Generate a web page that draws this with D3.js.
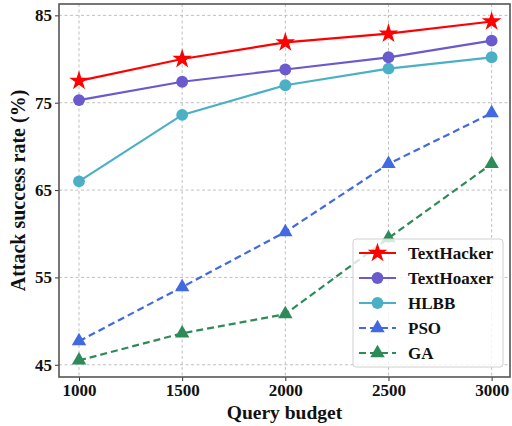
<!DOCTYPE html>
<html>
<head>
<meta charset="utf-8">
<script src="https://cdn.jsdelivr.net/npm/d3@7"></script>
<style>
  body { margin: 0; background: #fff; }
  text { font-family: "Liberation Serif", "DejaVu Serif", serif; font-weight: bold; }
</style>
</head>
<body>
<div id="chart"></div>
<script>
var budgets = [1000, 1500, 2000, 2500, 3000];
var yTicks = [45, 55, 65, 75, 85];
var seriesNames = ["TextHacker", "TextHoaxer", "HLBB", "PSO", "GA"];
var textHacker = [77.5, 80.0, 81.9, 82.9, 84.3];
var textHoaxer = [75.3, 77.4, 78.8, 80.2, 82.1];
var hlbb = [66.0, 73.6, 77.0, 78.9, 80.2];
var pso = [47.7, 53.9, 60.2, 68.0, 73.8];
var ga = [45.5, 48.6, 50.8, 59.5, 68.0];

var series = [
    { name: seriesNames[0], values: textHacker, color: "#ff0000", symbol: d3.symbolStar, size: 120, dash: null },
    { name: seriesNames[1], values: textHoaxer, color: "#6a5acd", symbol: d3.symbolCircle, size: 110, dash: null },
    { name: seriesNames[2], values: hlbb, color: "#4bb0c6", symbol: d3.symbolCircle, size: 110, dash: null },
    { name: seriesNames[3], values: pso, color: "#4169e1", symbol: d3.symbolTriangle, size: 90, dash: "7,4" },
    { name: seriesNames[4], values: ga, color: "#2e8b57", symbol: d3.symbolTriangle, size: 90, dash: "7,4" }
];

var W = 512, H = 426;
var margin = { top: 4, right: 2, bottom: 49, left: 59 };
var width = W - margin.left - margin.right,
    height = H - margin.top - margin.bottom;

var svg = d3.select("#chart").append("svg")
    .attr("width", W)
    .attr("height", H);
var g = svg.append("g").attr("transform", "translate(" + margin.left + "," + margin.top + ")");

var x = d3.scaleLinear().domain([903, 3089]).range([0, width]);
var y = d3.scaleLinear().domain([43.6, 86.3]).range([height, 0]);

// grid
g.selectAll(".gx").data(budgets).enter().append("line")
    .attr("x1", function (d) { return x(d); }).attr("x2", function (d) { return x(d); })
    .attr("y1", 0).attr("y2", height)
    .attr("stroke", "#b0b0b0").attr("stroke-width", 0.8).attr("stroke-dasharray", "3,2.5");
g.selectAll(".gy").data(yTicks).enter().append("line")
    .attr("y1", function (d) { return y(d); }).attr("y2", function (d) { return y(d); })
    .attr("x1", 0).attr("x2", width)
    .attr("stroke", "#b0b0b0").attr("stroke-width", 0.8).attr("stroke-dasharray", "3,2.5");

// axes
var xAxis = g.append("g").attr("transform", "translate(0," + height + ")")
    .call(d3.axisBottom(x).tickValues(budgets).tickFormat(d3.format("d")).tickSize(4).tickPadding(3));
var yAxis = g.append("g")
    .call(d3.axisLeft(y).tickValues(yTicks).tickFormat(d3.format("d")).tickSize(4).tickPadding(3));
[xAxis, yAxis].forEach(function (a) {
    a.select(".domain").remove();
    a.selectAll("line").attr("stroke", "#333");
    a.selectAll("text").attr("font-size", 17).attr("fill", "#111")
        .style("font-family", "'Liberation Serif', serif").style("font-weight", "bold");
});

g.append("rect").attr("width", width).attr("height", height)
    .attr("fill", "none").attr("stroke", "#555").attr("stroke-width", 1.6);

// lines
var line = d3.line()
    .x(function (d, i) { return x(budgets[i]); })
    .y(function (d) { return y(d); });

series.slice().reverse().forEach(function (s) {
    g.append("path").datum(s.values)
        .attr("d", line)
        .attr("fill", "none")
        .attr("stroke", s.color)
        .attr("stroke-width", 2.2)
        .attr("stroke-dasharray", s.dash);
    g.selectAll(null).data(s.values).enter().append("path")
        .attr("transform", function (d, i) { return "translate(" + x(budgets[i]) + "," + y(d) + ")"; })
        .attr("d", d3.symbol().type(s.symbol).size(s.size))
        .attr("fill", s.color);
});

// legend
var legend = g.append("g").attr("transform", "translate(" + (353 - margin.left) + "," + (239 - margin.top) + ")");
legend.append("rect")
    .attr("width", 150).attr("height", 128).attr("rx", 3)
    .attr("fill", "#fff").attr("fill-opacity", 0.8)
    .attr("stroke", "#d0d0d0");
var items = legend.selectAll(".item").data(series).enter().append("g")
    .attr("transform", function (d, i) { return "translate(0," + (14 + i * 25) + ")"; });
items.append("line")
    .attr("x1", 6).attr("x2", 43)
    .attr("stroke", function (d) { return d.color; })
    .attr("stroke-width", 2.2)
    .attr("stroke-dasharray", function (d) { return d.dash; });
items.append("path")
    .attr("transform", "translate(24.5,0)")
    .attr("d", function (d) { return d3.symbol().type(d.symbol).size(d.size)(); })
    .attr("fill", function (d) { return d.color; });
items.append("text")
    .attr("x", 55).attr("dy", "0.35em")
    .attr("font-size", 17).attr("fill", "#111")
    .text(function (d) { return d.name; });

// axis titles
svg.append("text")
    .attr("x", margin.left + width / 2).attr("y", 419)
    .attr("text-anchor", "middle").attr("font-size", 19.5).attr("fill", "#111")
    .text("Query budget");
svg.append("text")
    .attr("transform", "translate(25," + (margin.top + height / 2) + ") rotate(-90)")
    .attr("text-anchor", "middle").attr("font-size", 20).attr("fill", "#111")
    .text("Attack success rate (%)");
</script>
</body>
</html>
